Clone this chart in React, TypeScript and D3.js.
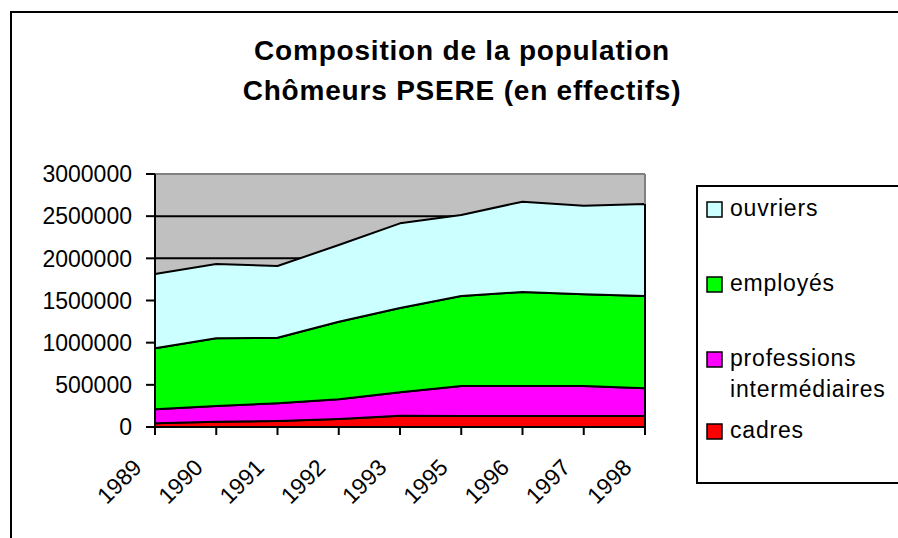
import React from "react";
import * as d3 from "d3";

const years = ["1989", "1990", "1991", "1992", "1993", "1995", "1996", "1997", "1998"];
const cadres = [44000, 63000, 71000, 95000, 133000, 130000, 130000, 130000, 130000];
const professions = [166000, 186000, 210000, 233000, 280000, 356000, 356000, 356000, 329000];
const employes = [723000, 803000, 778000, 921000, 998000, 1067000, 1115000, 1088000, 1094000];
const ouvriers = [881000, 881000, 850000, 909000, 1004000, 961000, 1071000, 1050000, 1091000];
const yTicks = [0, 500000, 1000000, 1500000, 2000000, 2500000, 3000000];
const seriesKeys = ["cadres", "professions", "employes", "ouvriers"];
const seriesColors = ["#FF0000", "#FF00FF", "#00FF00", "#CCFFFF"];
const legendLabels = [["ouvriers"], ["employés"], ["professions", "intermédiaires"], ["cadres"]];
const legendColors = ["#CCFFFF", "#00FF00", "#FF00FF", "#FF0000"];
const titleLines = ["Composition de la population", "Chômeurs PSERE (en effectifs)"];

export default function App() {
  const left = 155, right = 645, top = 174, bottom = 427;
  const x = d3.scalePoint<string>().domain(years).range([left, right]);
  const y = d3.scaleLinear().domain([0, 3000000]).range([bottom, top]);
  const rows = years.map((yr, i) => ({
    year: yr,
    cadres: cadres[i],
    professions: professions[i],
    employes: employes[i],
    ouvriers: ouvriers[i],
  }));
  const stack = d3.stack<any>().keys(seriesKeys);
  const layers = stack(rows);
  const area = d3
    .area<any>()
    .x((d) => x(d.data.year) as number)
    .y0((d) => y(d[0]))
    .y1((d) => y(d[1]));
  const font = "'Liberation Sans', Arial, sans-serif";
  const legendY = [209, 284, 359, 431];

  return (
    <svg
      width={898}
      height={538}
      style={{ position: "absolute", left: 0, top: 0, background: "#fff" }}
      fontFamily={font}
    >
      <rect x={0} y={0} width={898} height={538} fill="#fff" />
      <rect x={11} y={12} width={910} height={560} fill="none" stroke="#000" strokeWidth={2} />
      {titleLines.map((t, i) => (
        <text
          key={t}
          x={462}
          y={60 + i * 40}
          textAnchor="middle"
          fontSize={28}
          fontWeight="bold"
          letterSpacing={0.8}
        >
          {t}
        </text>
      ))}
      {/* plot area */}
      <rect x={left} y={top} width={right - left} height={bottom - top} fill="#C0C0C0" />
      {yTicks.slice(1, -1).map((t) => (
        <line key={t} x1={left} x2={right} y1={y(t)} y2={y(t)} stroke="#000" strokeWidth={2} />
      ))}
      {layers.map((layer, i) => (
        <path
          key={layer.key}
          d={area(layer as any) as string}
          fill={seriesColors[i]}
          stroke="#000"
          strokeWidth={2}
          strokeLinejoin="round"
        />
      ))}
      <line x1={left} x2={right} y1={top} y2={top} stroke="#808080" strokeWidth={2} />
      <line
        x1={right}
        x2={right}
        y1={top}
        y2={y(layers[3][layers[3].length - 1][1])}
        stroke="#808080"
        strokeWidth={2}
      />
      {/* y axis */}
      <line x1={left} x2={left} y1={top} y2={bottom} stroke="#000" strokeWidth={2} />
      {yTicks.map((t) => (
        <g key={t}>
          <line x1={left - 9} x2={left} y1={y(t)} y2={y(t)} stroke="#000" strokeWidth={2} />
          <text x={132} y={y(t)} dy="0.36em" textAnchor="end" fontSize={23}>
            {t}
          </text>
        </g>
      ))}
      {/* x axis */}
      <line x1={left} x2={right} y1={bottom} y2={bottom} stroke="#000" strokeWidth={2} />
      {years.map((yr) => (
        <g key={yr}>
          <line
            x1={x(yr)}
            x2={x(yr)}
            y1={bottom}
            y2={bottom + 8}
            stroke="#000"
            strokeWidth={2}
          />
          <text
            transform={`translate(${(x(yr) as number) - 12},469) rotate(-45)`}
            textAnchor="end"
            fontSize={23}
          >
            {yr}
          </text>
        </g>
      ))}
      {/* legend */}
      <rect x={697} y={186} width={260} height={297} fill="#fff" stroke="#000" strokeWidth={2} />
      {legendLabels.map((lab, i) => (
        <g key={i}>
          <rect
            x={707}
            y={legendY[i] - 7}
            width={15}
            height={15}
            fill={legendColors[i]}
            stroke="#000"
            strokeWidth={1.5}
          />
          {lab.map((l, j) => (
            <text
              key={l}
              x={730}
              y={legendY[i] + 7 + j * 31}
              fontSize={23}
              letterSpacing={0.8}
            >
              {l}
            </text>
          ))}
        </g>
      ))}
    </svg>
  );
}
